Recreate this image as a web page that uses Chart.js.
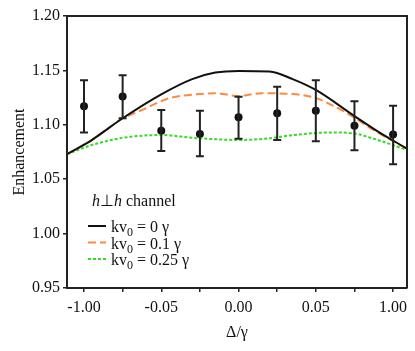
<!DOCTYPE html>
<html><head><meta charset="utf-8">
<script src="https://cdn.jsdelivr.net/npm/chart.js@4/dist/chart.umd.min.js"></script>
<style>html,body{margin:0;padding:0;background:#fff;}canvas{display:block;}</style>
</head><body>
<canvas id="c" width="415" height="351"></canvas>
<script>
// ---- data ----
const xTickValues = [-0.1, -0.075, -0.05, -0.025, 0, 0.025, 0.05, 0.075, 0.1];
const xTickLabels = ['-1.00', '', '-0.05', '', '0.00', '', '0.05', '', '1.00'];
const yTickValues = [0.95, 1.00, 1.05, 1.10, 1.15, 1.20];

const pointX    = [-0.1, -0.075, -0.05, -0.025, 0, 0.025, 0.05, 0.075, 0.1];
const pointY    = [1.117, 1.126, 1.0946, 1.0915, 1.107, 1.1106, 1.113, 1.0992, 1.091];
const pointHigh = [1.141, 1.1455, 1.1136, 1.113, 1.1258, 1.135, 1.141, 1.1216, 1.1176];
const pointLow  = [1.093, 1.106, 1.076, 1.071, 1.0872, 1.086, 1.0848, 1.0766, 1.0637];

const kv0X = [-0.111, -0.095, -0.075, -0.05, -0.03, -0.015, 0, 0.02, 0.035, 0.05, 0.075, 0.09, 0.109];
const kv0Y = [1.073, 1.086, 1.106, 1.128, 1.142, 1.148, 1.1495, 1.149, 1.142, 1.132, 1.108, 1.094, 1.078];

const kv01X = [-0.111, -0.095, -0.075, -0.0625, -0.045, -0.025, -0.015, 0, 0.015, 0.035, 0.05, 0.0625, 0.075, 0.0875, 0.109];
const kv01Y = [1.073, 1.086, 1.1058, 1.1136, 1.1244, 1.1283, 1.129, 1.1265, 1.129, 1.1283, 1.1246, 1.1166, 1.1065, 1.095, 1.078];

const kv025X = [-0.111, -0.095, -0.075, -0.05, -0.03, -0.015, 0, 0.02, 0.035, 0.06, 0.075, 0.0875, 0.109];
const kv025Y = [1.073, 1.0814, 1.088, 1.0906, 1.0881, 1.0867, 1.086, 1.0876, 1.0905, 1.093, 1.092, 1.0872, 1.0768];

const legendValues = ['0 γ', '0.1 γ', '0.25 γ'];

// ---- build ----
const FONT = 'Liberation Serif';
const toXY = (xs, ys) => xs.map((x, i) => ({x, y: ys[i]}));
const AX = '#222';

const errorBars = {
  id: 'errorBars',
  afterDatasetsDraw(chart) {
    const {ctx, scales: {x, y}} = chart;
    ctx.save();
    ctx.strokeStyle = AX; ctx.lineWidth = 2;
    pointX.forEach((xv, i) => {
      const px = x.getPixelForValue(xv);
      const top = y.getPixelForValue(pointHigh[i]);
      const bot = y.getPixelForValue(pointLow[i]);
      ctx.beginPath();
      ctx.moveTo(px, top); ctx.lineTo(px, bot);
      ctx.moveTo(px - 4, top); ctx.lineTo(px + 4, top);
      ctx.moveTo(px - 4, bot); ctx.lineTo(px + 4, bot);
      ctx.stroke();
    });
    ctx.restore();
  }
};

const frameAndLegend = {
  id: 'frameAndLegend',
  afterDraw(chart) {
    const {ctx, chartArea: a} = chart;
    ctx.save();
    ctx.strokeStyle = AX; ctx.lineWidth = 2;
    ctx.beginPath();
    ctx.moveTo(a.left, a.top); ctx.lineTo(a.right, a.top); ctx.lineTo(a.right, a.bottom);
    ctx.stroke();

    // channel label
    ctx.fillStyle = '#111';
    ctx.textBaseline = 'alphabetic';
    let tx = a.left + 25, ty = a.top + 190;
    const seg = [['italic 16px ' + FONT, 'h'], ['16px ' + FONT, '⊥'], ['italic 16px ' + FONT, 'h'], ['16px ' + FONT, ' channel']];
    seg.forEach(([f, t]) => { ctx.font = f; ctx.fillText(t, tx, ty); tx += ctx.measureText(t).width; });

    // legend entries
    const ds = chart.data.datasets.slice(0, 3);
    ds.forEach((d, i) => {
      const ly = a.top + 210 + i * 16.5;
      ctx.save();
      ctx.strokeStyle = d.borderColor; ctx.lineWidth = d.borderWidth;
      ctx.setLineDash(d.borderDash || []);
      ctx.beginPath(); ctx.moveTo(a.left + 21, ly); ctx.lineTo(a.left + 39, ly); ctx.stroke();
      ctx.restore();
      let lx = a.left + 44;
      const by = ly + 6;
      ctx.font = '16px ' + FONT; ctx.fillText('kv', lx, by); lx += ctx.measureText('kv').width;
      ctx.font = '12px ' + FONT; ctx.fillText('0', lx, by + 4); lx += ctx.measureText('0').width;
      ctx.font = '16px ' + FONT; ctx.fillText(' = ' + legendValues[i], lx, by);
    });
    ctx.restore();
  }
};

new Chart(document.getElementById('c'), {
  data: {
    datasets: [
      {type: 'line', label: 'kv0 = 0 γ', data: toXY(kv0X, kv0Y), borderColor: '#111', borderWidth: 2, pointRadius: 0, cubicInterpolationMode: 'monotone', fill: false},
      {type: 'line', label: 'kv0 = 0.1 γ', data: toXY(kv01X, kv01Y), borderColor: '#ff8a3d', borderWidth: 2, borderDash: [8, 4], pointRadius: 0, cubicInterpolationMode: 'monotone', fill: false},
      {type: 'line', label: 'kv0 = 0.25 γ', data: toXY(kv025X, kv025Y), borderColor: '#33dd22', borderWidth: 2, borderDash: [3, 2], pointRadius: 0, cubicInterpolationMode: 'monotone', fill: false},
      {type: 'scatter', label: 'data', data: toXY(pointX, pointY), backgroundColor: '#111', borderColor: '#111', pointRadius: 4, pointBorderWidth: 0}
    ]
  },
  options: {
    responsive: false, animation: false,
    layout: {padding: {top: 16, right: 8, left: 0, bottom: 0}},
    plugins: {legend: {display: false}, tooltip: {enabled: false}},
    scales: {
      x: {
        type: 'linear', min: -0.111, max: 0.109,
        afterBuildTicks: s => { s.ticks = xTickValues.map(v => ({value: v})); },
        afterFit: s => { s.height = 63; },
        ticks: {callback: (v, i) => xTickLabels[i], font: {family: FONT, size: 16}, color: '#111', padding: 6, maxRotation: 0, autoSkip: false},
        grid: {drawOnChartArea: false, drawTicks: true, tickLength: 4, color: AX, lineWidth: 1.5},
        border: {display: true, width: 2, color: AX},
        title: {display: true, text: 'Δ/γ', font: {family: FONT, size: 16}, color: '#111', padding: {top: 0, bottom: 9}}
      },
      y: {
        type: 'linear', min: 0.95, max: 1.20,
        afterBuildTicks: s => { s.ticks = yTickValues.map(v => ({value: v})); },
        afterFit: s => { s.width = 67; },
        ticks: {callback: v => v.toFixed(2), font: {family: FONT, size: 16}, color: '#111', padding: 3},
        grid: {drawOnChartArea: false, drawTicks: true, tickLength: 4, color: AX, lineWidth: 1.5},
        border: {display: true, width: 2, color: AX},
        title: {display: true, text: 'Enhancement', font: {family: FONT, size: 16}, color: '#111', padding: {top: 10, bottom: 0}}
      }
    }
  },
  plugins: [errorBars, frameAndLegend]
});
</script>
</body></html>
